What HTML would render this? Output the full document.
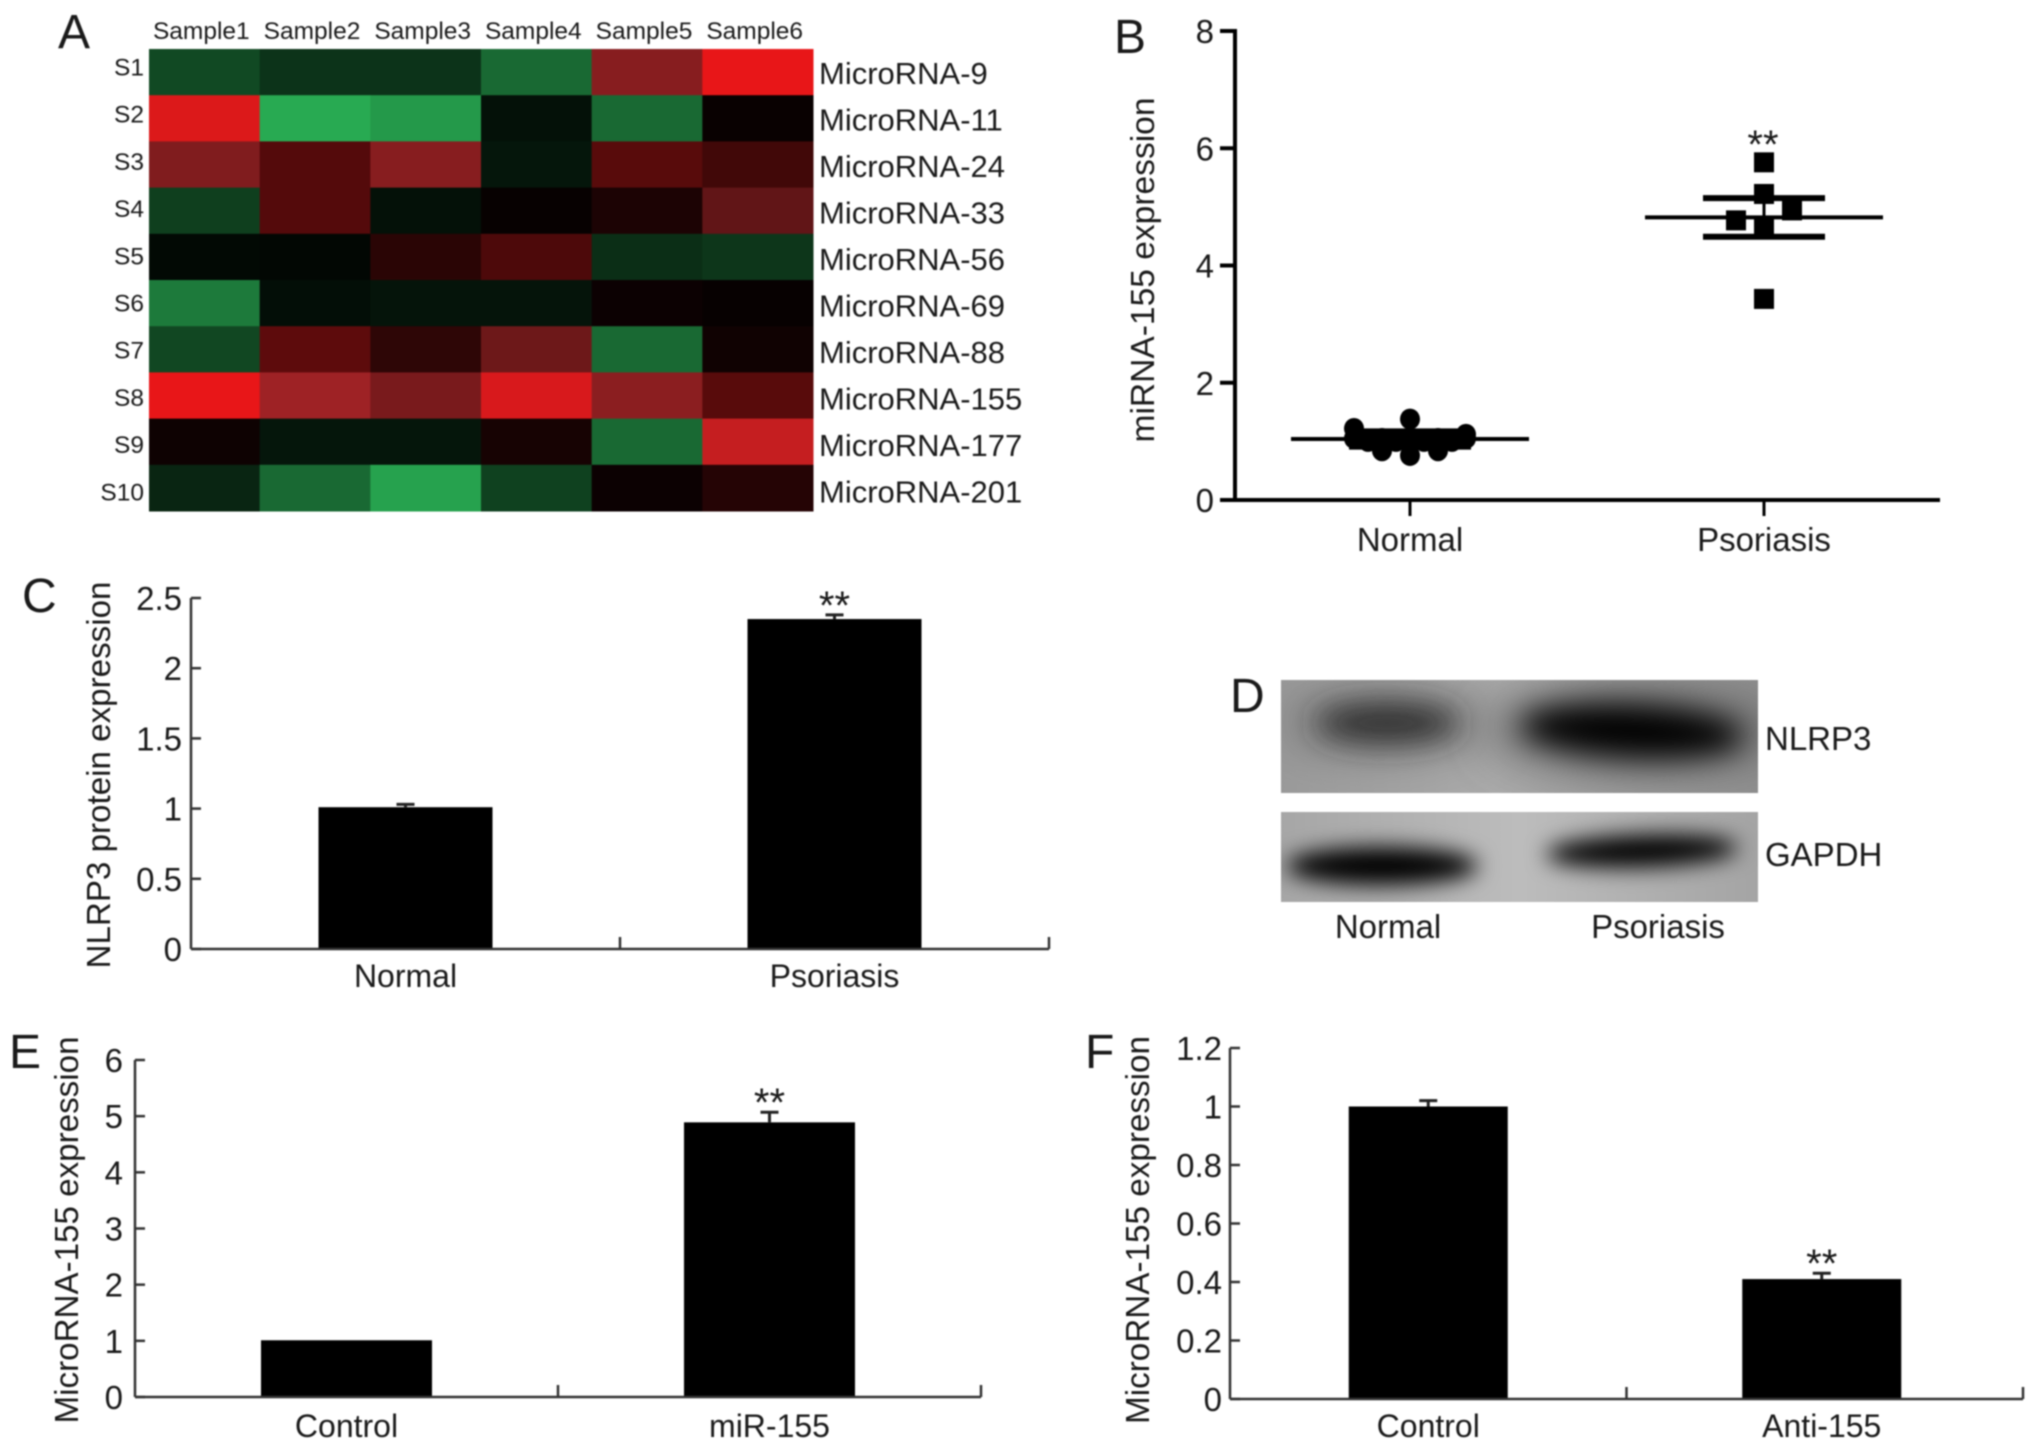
<!DOCTYPE html>
<html lang="en">
<head>
<meta charset="utf-8">
<title>MicroRNA-155 and NLRP3 expression figure</title>
<style>
html,body{margin:0;padding:0;background:#fff;}
#figure{display:block;width:2032px;height:1445px;filter:blur(0.7px);}
text{font-family:"Liberation Sans",Arial,sans-serif;fill:#1a1a1a;}
</style>
</head>
<body>
<svg id="figure" xmlns="http://www.w3.org/2000/svg" width="2032" height="1445" viewBox="0 0 2032 1445">
<defs>
<filter id="blur-big" x="-50%" y="-100%" width="200%" height="300%"><feGaussianBlur stdDeviation="15"/></filter>
<filter id="blur-mid" x="-50%" y="-100%" width="200%" height="300%"><feGaussianBlur stdDeviation="11"/></filter>
<filter id="blur-bg" x="-50%" y="-100%" width="200%" height="300%"><feGaussianBlur stdDeviation="24"/></filter>
<clipPath id="clip-top"><rect x="1281" y="680" width="477" height="113"/></clipPath>
<clipPath id="clip-bottom"><rect x="1281" y="812" width="477" height="90"/></clipPath>
<linearGradient id="bg-top" x1="0" x2="1" y1="0" y2="0">
<stop offset="0" stop-color="#9a9a9a"/><stop offset="0.45" stop-color="#ababab"/><stop offset="1" stop-color="#8f8f8f"/>
</linearGradient>
<linearGradient id="bg-bottom" x1="0" x2="1" y1="0" y2="0">
<stop offset="0" stop-color="#a6a6a6"/><stop offset="0.5" stop-color="#bcbcbc"/><stop offset="1" stop-color="#a4a4a4"/>
</linearGradient>
</defs>

<text x="58" y="48" font-size="48">A</text>
<text x="1114" y="53" font-size="48">B</text>
<text x="22" y="612" font-size="48">C</text>
<text x="1230" y="712" font-size="48">D</text>
<text x="9" y="1068" font-size="48">E</text>
<text x="1085" y="1068" font-size="48">F</text>

<g id="heatmap"></g>
<g id="scatter-b"></g>
<g id="bars-c"></g>
<g id="bars-e"></g>
<g id="bars-f"></g>

<g>
  <g clip-path="url(#clip-top)">
    <rect x="1281" y="680" width="477" height="113" fill="url(#bg-top)"/>
    <ellipse cx="1387" cy="722" rx="110" ry="34" fill="#6a6a6a" opacity="0.55" filter="url(#blur-bg)"/>
    <ellipse cx="1632" cy="730" rx="145" ry="42" fill="#5a5a5a" opacity="0.7" filter="url(#blur-bg)"/>
    <ellipse cx="1387" cy="723" rx="72" ry="20" fill="#2e2e2e" filter="url(#blur-big)"/>
    <ellipse cx="1632" cy="731" rx="112" ry="26" fill="#000" filter="url(#blur-big)" transform="rotate(3 1632 731)"/>
  </g>
  <g clip-path="url(#clip-bottom)">
    <rect x="1281" y="812" width="477" height="90" fill="url(#bg-bottom)"/>
    <ellipse cx="1382" cy="866" rx="96" ry="19" fill="#000" filter="url(#blur-mid)"/>
    <ellipse cx="1642" cy="851" rx="96" ry="16" fill="#050505" filter="url(#blur-mid)" transform="rotate(-2 1642 851)"/>
  </g>
  <text x="1765" y="750" font-size="33">NLRP3</text>
  <text x="1765" y="866" font-size="33">GAPDH</text>
  <text x="1388" y="938" font-size="33" text-anchor="middle">Normal</text>
  <text x="1658" y="938" font-size="33" text-anchor="middle">Psoriasis</text>
</g>
</svg>

<script>
// ---- Panel A: heatmap data ----
const heatmapSamples = ['Sample1','Sample2','Sample3','Sample4','Sample5','Sample6'];
const heatmapRowIds = ['S1','S2','S3','S4','S5','S6','S7','S8','S9','S10'];
const heatmapGenes = ['MicroRNA-9','MicroRNA-11','MicroRNA-24','MicroRNA-33','MicroRNA-56','MicroRNA-69','MicroRNA-88','MicroRNA-155','MicroRNA-177','MicroRNA-201'];
const heatmapValues = [
  [-0.43,-0.30,-0.30,-0.62, 0.58, 1.00],
  [ 0.95,-1.00,-0.90,-0.10,-0.62, 0.04],
  [ 0.55, 0.36, 0.58,-0.13, 0.38, 0.28],
  [-0.37, 0.36,-0.10, 0.03, 0.12, 0.42],
  [-0.05,-0.04, 0.18, 0.33,-0.27,-0.32],
  [-0.72,-0.08,-0.12,-0.12, 0.05, 0.03],
  [-0.42, 0.40, 0.20, 0.47,-0.62, 0.07],
  [ 1.00, 0.68, 0.52, 0.93, 0.60, 0.38],
  [ 0.06,-0.13,-0.13, 0.10,-0.62, 0.85],
  [-0.22,-0.62,-0.95,-0.38, 0.05, 0.16]
];

// ---- Panel B: scatter data ----
const scatterCategories = ['Normal','Psoriasis'];
const scatterTicks = [0,2,4,6,8];
const normalValues = [1.22,1.38,1.12,0.84,0.84,0.76,1.05,1.05,1.05,1.05,1.05,1.0,1.0,1.0,1.0];
const normalSlots = [-2,0,2,-1,1,0,-2,-1,0,1,2,-1.5,-0.5,0.5,1.5];
const psoriasisValues = [5.76,5.22,4.94,4.77,4.66,3.43];
const psoriasisSlots = [0,0,1,-1,0,0];
const scatterMeans = [1.04,4.82];
const scatterErrors = [0.13,0.33];

// ---- Panel C data ----
const barCategoriesC = ['Normal','Psoriasis'];
const barValuesC = [1.01,2.35];
const barErrorsC = [0.02,0.03];
const barTicksC = [0,0.5,1,1.5,2,2.5];

// ---- Panel E data ----
const barCategoriesE = ['Control','miR-155'];
const barValuesE = [1.01,4.89];
const barErrorsE = [0.0,0.18];
const barTicksE = [0,1,2,3,4,5,6];

// ---- Panel F data ----
const barCategoriesF = ['Control','Anti-155'];
const barValuesF = [1.0,0.41];
const barErrorsF = [0.02,0.02];
const barTicksF = [0,0.2,0.4,0.6,0.8,1,1.2];

const SVGNS = 'http://www.w3.org/2000/svg';
function el(parent, tag, attrs, text) {
  const node = document.createElementNS(SVGNS, tag);
  for (const k in attrs) node.setAttribute(k, attrs[k]);
  if (text !== undefined) node.textContent = text;
  parent.appendChild(node);
  return node;
}
function heatColor(v) {
  const m = Math.abs(v);
  if (v >= 0) {
    const gb = m <= 0.4 ? 28*m : (m <= 0.72 ? 50*m : 36 - 14*(m - 0.72)/0.28);
    return 'rgb(' + Math.round(232*m) + ',' + Math.round(gb) + ',' + Math.round(gb*1.08) + ')';
  }
  return 'rgb(' + Math.round(40*m) + ',' + Math.round(170*m) + ',' + Math.round(82*m) + ')';
}

// ---- draw heatmap ----
(function () {
  const g = document.getElementById('heatmap');
  const left = 149, top = 49, right = 813, bottom = 511;
  const cw = (right - left) / heatmapSamples.length;
  const ch = (bottom - top) / heatmapRowIds.length;
  heatmapValues.forEach(function (row, r) {
    row.forEach(function (v, c) {
      const cell = el(g, 'rect', {x: left + c*cw, y: top + r*ch, width: cw + 0.5, height: ch + 0.5, fill: heatColor(v)});
      
      
    });
  });
  heatmapSamples.forEach(function (s, c) {
    const t = el(g, 'text', {x: left + (c+0.5)*cw - 3, y: 39, 'font-size': 24.5, 'text-anchor': 'middle'}, s);
    
    
  });
  heatmapRowIds.forEach(function (s, r) {
    const t = el(g, 'text', {x: 144, y: 75.5 + r*47.2, 'font-size': 24.5, 'text-anchor': 'end'}, s);
    
    
  });
  heatmapGenes.forEach(function (s, r) {
    const t = el(g, 'text', {x: 819, y: 84 + r*46.5, 'font-size': 31}, s);
    
    
  });
})();

// ---- draw scatter ----
(function () {
  const g = document.getElementById('scatter-b');
  const axisX = 1235, endX = 1940, y0 = 500, yTop = 31, maxV = 8;
  const y = function (v) { return y0 - v / maxV * (y0 - yTop); };
  const cx = function (i) { return 1410 + i * 354; };
  const slotW = 28;
  const yAxis = el(g, 'line', {x1: axisX, x2: axisX, y1: yTop - 2, y2: y0 + 2, stroke: '#000', 'stroke-width': 4});
  
  
  const xAxis = el(g, 'line', {x1: axisX - 15, x2: endX, y1: y0, y2: y0, stroke: '#000', 'stroke-width': 4});
  
  
  scatterTicks.forEach(function (v) {
    const tick = el(g, 'line', {x1: axisX - 15, x2: axisX, y1: y(v), y2: y(v), stroke: '#000', 'stroke-width': 4});
    
    
    const lab = el(g, 'text', {x: 1214, y: y(v) + 12, 'font-size': 33, 'text-anchor': 'end'}, String(v));
    
    
  });
  scatterCategories.forEach(function (c, i) {
    const tick = el(g, 'line', {x1: cx(i), x2: cx(i), y1: y0, y2: y0 + 16, stroke: '#000', 'stroke-width': 3});
    
    
    const lab = el(g, 'text', {x: cx(i), y: 551, 'font-size': 33, 'text-anchor': 'middle'}, c);
    
    
  });
  normalValues.forEach(function (v, i) {
    const p = el(g, 'ellipse', {cx: cx(0) + normalSlots[i]*slotW, cy: y(v), rx: 10, ry: 10.5, fill: '#000'});
    
    
  });
  psoriasisValues.forEach(function (v, i) {
    const p = el(g, 'rect', {x: cx(1) + psoriasisSlots[i]*slotW - 10, y: y(v) - 10, width: 20, height: 20, fill: '#000'});
    
    
  });
  scatterMeans.forEach(function (m, i) {
    const mean = el(g, 'line', {x1: cx(i) - 119, x2: cx(i) + 119, y1: y(m), y2: y(m), stroke: '#000', 'stroke-width': 4});
    
    
    const upper = el(g, 'line', {x1: cx(i) - 61, x2: cx(i) + 61, y1: y(m + scatterErrors[i]), y2: y(m + scatterErrors[i]), stroke: '#000', 'stroke-width': 6});
    
    
    const lower = el(g, 'line', {x1: cx(i) - 61, x2: cx(i) + 61, y1: y(m - scatterErrors[i]), y2: y(m - scatterErrors[i]), stroke: '#000', 'stroke-width': 6});
    
    
    const stem = el(g, 'line', {x1: cx(i), x2: cx(i), y1: y(m + scatterErrors[i]), y2: y(m - scatterErrors[i]), stroke: '#000', 'stroke-width': 3});
    
    
  });
  const star = el(g, 'text', {x: cx(1) - 1, y: 158, 'font-size': 40, 'text-anchor': 'middle'}, '**');
  
  
  const title = el(g, 'text', {transform: 'translate(1154,270) rotate(-90)', 'font-size': 33, 'text-anchor': 'middle', textLength: 345, lengthAdjust: 'spacingAndGlyphs'}, 'miRNA-155 expression');
  
  
})();

// ---- draw bar charts ----
function drawBars(id, opt, categories, values, errors, ticks, starIndex, titleText) {
  const g = document.getElementById(id);
  const y = function (v) { return opt.y0 - v / opt.maxV * (opt.y0 - opt.yTop); };
  const band = (opt.endX - opt.axisX) / categories.length;
  const cx = function (i) { return opt.axisX + (i + 0.5) * band + (opt.shift ? opt.shift[i] : 0); };
  values.forEach(function (v, i) {
    const bar = el(g, 'rect', {x: cx(i) - opt.barW/2, y: y(v), width: opt.barW, height: opt.y0 - y(v), fill: '#000'});
    
    
    if (errors[i] > 0) {
      const stem = el(g, 'line', {x1: cx(i), x2: cx(i), y1: y(v), y2: y(v + errors[i]), stroke: '#222', 'stroke-width': 3});
      
      
      const cap = el(g, 'line', {x1: cx(i) - 9, x2: cx(i) + 9, y1: y(v + errors[i]), y2: y(v + errors[i]), stroke: '#222', 'stroke-width': 3});
      
      
    }
  });
  const yAxis = el(g, 'line', {x1: opt.axisX, x2: opt.axisX, y1: opt.yTop, y2: opt.y0, stroke: '#333', 'stroke-width': 2.5});
  
  
  const xAxis = el(g, 'line', {x1: opt.axisX, x2: opt.endX, y1: opt.y0, y2: opt.y0, stroke: '#333', 'stroke-width': 2.5});
  
  
  ticks.forEach(function (v) {
    const tick = el(g, 'line', {x1: opt.axisX, x2: opt.axisX + 10, y1: y(v), y2: y(v), stroke: '#333', 'stroke-width': 2.5});
    
    
    const lab = el(g, 'text', {x: opt.labelX, y: y(v) + 12, 'font-size': 33, 'text-anchor': 'end'}, String(v));
    
    
  });
  categories.forEach(function (c, i) {
    const tx = opt.axisX + (i + 1) * band;
    const tick = el(g, 'line', {x1: tx, x2: tx, y1: opt.y0 - 12, y2: opt.y0, stroke: '#333', 'stroke-width': 2.5});
    
    
    const lab = el(g, 'text', {x: cx(i), y: opt.catY, 'font-size': 32, 'text-anchor': 'middle'}, c);
    
    
  });
  const star = el(g, 'text', {x: cx(starIndex), y: y(values[starIndex] + errors[starIndex]) + 4, 'font-size': 40, 'text-anchor': 'middle'}, '**');
  
  
  const title = el(g, 'text', {transform: 'translate(' + opt.titleX + ',' + opt.titleY + ') rotate(-90)', 'font-size': 33, 'text-anchor': 'middle', textLength: opt.titleLen, lengthAdjust: 'spacingAndGlyphs'}, titleText);
  
  
}

drawBars('bars-c', {axisX:191,endX:1049,y0:949,yTop:598,maxV:2.5,barW:174,labelX:182,catY:987,titleX:110,titleY:775,titleLen:387},
  barCategoriesC, barValuesC, barErrorsC, barTicksC, 1, 'NLRP3 protein expression');
drawBars('bars-e', {axisX:135,endX:981,y0:1397,yTop:1060,maxV:6,barW:171,labelX:123,catY:1437,titleX:78,titleY:1230,titleLen:387},
  barCategoriesE, barValuesE, barErrorsE, barTicksE, 1, 'MicroRNA-155 expression');
drawBars('bars-f', {axisX:1230,endX:2023,y0:1399,yTop:1048,maxV:1.2,barW:159,labelX:1222,catY:1437,titleX:1149,titleY:1230,titleLen:388,shift:[0,-3]},
  barCategoriesF, barValuesF, barErrorsF, barTicksF, 1, 'MicroRNA-155 expression');
</script>
</body>
</html>
